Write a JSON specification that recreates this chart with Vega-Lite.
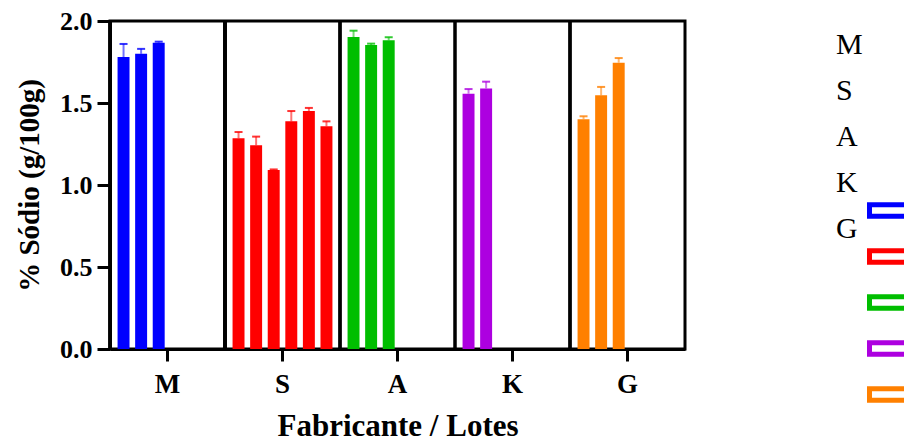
{
  "$schema": "https://vega.github.io/schema/vega-lite/v6.json",
  "autosize": "none",
  "padding": {"left": 110, "top": 21, "right": 219, "bottom": 92},
  "width": 575,
  "height": 328,
  "background": "white",
  "config": {
    "font": "Liberation Serif",
    "view": {"stroke": "black", "strokeWidth": 3},
    "axis": {
      "grid": false,
      "domainColor": "black",
      "domainWidth": 3,
      "tickColor": "black",
      "tickWidth": 3,
      "labelFont": "Liberation Serif",
      "labelFontWeight": "bold",
      "labelColor": "black",
      "titleFont": "Liberation Serif",
      "titleFontWeight": "bold",
      "titleColor": "black"
    }
  },
  "data": {
    "values": [
      {"fabricante": "M", "lote": 1, "sodio": 1.78, "upper": 1.86},
      {"fabricante": "M", "lote": 2, "sodio": 1.8, "upper": 1.83},
      {"fabricante": "M", "lote": 3, "sodio": 1.868, "upper": 1.874},
      {"fabricante": "S", "lote": 1, "sodio": 1.285, "upper": 1.323},
      {"fabricante": "S", "lote": 2, "sodio": 1.242, "upper": 1.295},
      {"fabricante": "S", "lote": 3, "sodio": 1.091, "upper": 1.095},
      {"fabricante": "S", "lote": 4, "sodio": 1.388, "upper": 1.451},
      {"fabricante": "S", "lote": 5, "sodio": 1.451, "upper": 1.47},
      {"fabricante": "S", "lote": 6, "sodio": 1.358, "upper": 1.388},
      {"fabricante": "A", "lote": 1, "sodio": 1.902, "upper": 1.941},
      {"fabricante": "A", "lote": 2, "sodio": 1.854, "upper": 1.862},
      {"fabricante": "A", "lote": 3, "sodio": 1.882, "upper": 1.901},
      {"fabricante": "K", "lote": 1, "sodio": 1.557, "upper": 1.585},
      {"fabricante": "K", "lote": 2, "sodio": 1.589, "upper": 1.63},
      {"fabricante": "G", "lote": 1, "sodio": 1.401, "upper": 1.419},
      {"fabricante": "G", "lote": 2, "sodio": 1.547, "upper": 1.598},
      {"fabricante": "G", "lote": 3, "sodio": 1.746, "upper": 1.774}
    ]
  },
  "encoding": {
    "x": {
      "field": "fabricante",
      "type": "nominal",
      "sort": ["M", "S", "A", "K", "G"],
      "scale": {"type": "band", "paddingInner": 0, "paddingOuter": 0},
      "axis": {
        "title": "Fabricante / Lotes",
        "labelAngle": 0,
        "labelFontSize": 27,
        "labelPadding": 10,
        "tickSize": 12,
        "titleFontSize": 31,
        "titlePadding": 14
      }
    }
  },
  "layer": [
    {
      "mark": {"type": "rule", "color": "black", "strokeWidth": 3},
      "encoding": {
        "x": {"field": "fabricante", "type": "nominal", "sort": ["M", "S", "A", "K", "G"], "bandPosition": 0}
      }
    },
    {
      "mark": {"type": "bar"},
      "encoding": {
        "xOffset": {
          "field": "lote",
          "type": "ordinal",
          "scale": {"domain": [1, 2, 3, 4, 5, 6], "paddingInner": 0.32, "paddingOuter": 0.43}
        },
        "y": {
          "field": "sodio",
          "type": "quantitative",
          "scale": {"domain": [0, 2], "nice": false},
          "axis": {
            "title": "% Sódio (g/100g)",
            "values": [0, 0.5, 1, 1.5, 2],
            "format": ".1f",
            "labelFontSize": 26,
            "labelPadding": 5,
            "tickSize": 13,
            "titleFontSize": 29,
            "titlePadding": 15
          }
        },
        "color": {
          "field": "fabricante",
          "type": "nominal",
          "scale": {
            "domain": ["M", "S", "A", "K", "G"],
            "range": ["#0000FF", "#FF0000", "#00BE00", "#AD00E0", "#FF8000"]
          },
          "legend": {
            "title": null,
            "orient": "none",
            "legendX": 757,
            "legendY": 165,
            "padding": 0,
            "symbolType": "M-1,-0.265L1,-0.265L1,0.265L-1,0.265Z",
            "symbolSize": 1936,
            "symbolStrokeWidth": 5,
            "symbolFillColor": "white",
            "labelFont": "Liberation Serif",
            "labelFontSize": 30,
            "labelColor": "black",
            "labelOffset": 0,
            "rowPadding": -152,
            "encode": {
              "symbols": {"update": {"fill": {"value": "white"}, "fillOpacity": {"value": 0}, "stroke": {"scale": "color", "field": "value"}, "strokeWidth": {"value": 5}, "strokeOpacity": {"value": 1}}},
              "labels": {"update": {"dx": {"value": -80}, "dy": {"value": -166}}}
            }
          }
        }
      }
    },
    {
      "mark": {"type": "rule", "strokeWidth": 2, "opacity": 0.55},
      "encoding": {
        "xOffset": {"field": "lote", "type": "ordinal"},
        "y": {"field": "sodio", "type": "quantitative"},
        "y2": {"field": "upper"},
        "color": {"field": "fabricante", "type": "nominal"}
      }
    },
    {
      "mark": {"type": "tick", "size": 8, "thickness": 2, "opacity": 0.8},
      "encoding": {
        "xOffset": {"field": "lote", "type": "ordinal"},
        "y": {"field": "upper", "type": "quantitative"},
        "color": {"field": "fabricante", "type": "nominal"}
      }
    }
  ]
}
